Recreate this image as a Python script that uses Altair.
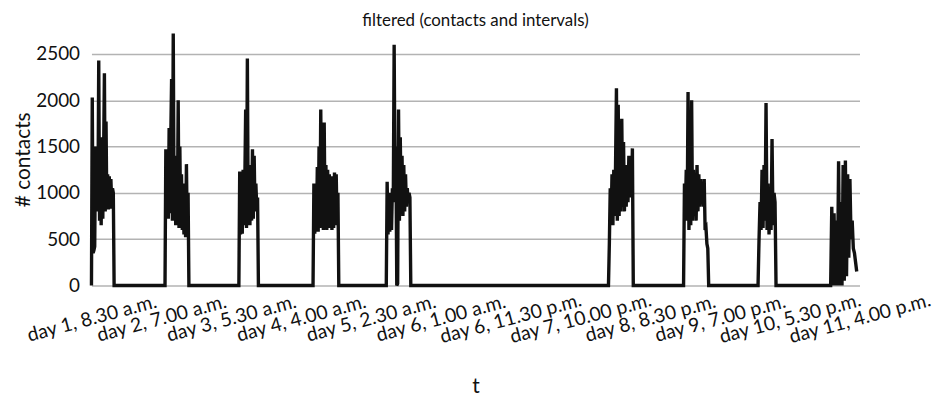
import altair as alt
import pandas as pd
import numpy as np

# Tick labels every 22.5 hours starting at day 1, 8.30 a.m.
tick_labels = [
    "day 1, 8.30 a.m.", "day 2, 7.00 a.m.", "day 3, 5.30 a.m.", "day 4, 4.00 a.m.",
    "day 5, 2.30 a.m.", "day 6, 1.00 a.m.", "day 6, 11.30 p.m.", "day 7, 10.00 p.m.",
    "day 8, 8.30 p.m.", "day 9, 7.00 p.m.", "day 10, 5.30 p.m.", "day 11, 4.00 p.m.",
]
tick_hours = [0, 22.5, 45, 67.5, 90, 112.5, 135, 157.5, 180, 202.5, 225, 247.5]
y_ticks = [0, 500, 1000, 1500, 2000, 2500]

# Active bursts: (start hour, end hour) and contact counts
burst_start = [0.0, 23.7, 47.5, 71.4, 95.0, 166.6, 190.8, 214.8, 238.2]
burst_end = [7.3, 31.4, 53.8, 79.7, 102.9, 174.6, 198.9, 220.6, 246.6]
b1 = [0, 2030, 350, 380, 420, 1500, 800, 1350, 900, 2430, 700, 1550, 650, 1600, 720,
      1400, 2290, 800, 1770, 850, 1200, 820, 1180, 830, 1150, 900, 1050, 1000, 0]
b2 = [0, 1470, 750, 1400, 720, 1700, 780, 1600, 2230, 700, 2720, 800, 1400, 650, 1350,
      720, 2000, 620, 1500, 700, 1200, 600, 1000, 550, 1100, 520, 1310, 560, 1000, 0]
b3 = [0, 1230, 550, 1200, 560, 1250, 650, 1100, 1900, 620, 2450, 700, 1300, 650, 1270,
      700, 1470, 720, 1400, 800, 1100, 850, 950, 0]
b4 = [0, 1100, 560, 1050, 600, 1280, 580, 1500, 620, 1900, 650, 1640, 600, 1760, 700,
      1300, 600, 1250, 620, 1200, 650, 1150, 600, 1180, 620, 1220, 700, 1200, 650, 1000, 0]
b5 = [0, 1120, 550, 1000, 580, 950, 600, 1050, 900, 2600, 1000, 1500, 0, 20, 1900, 700,
      1600, 800, 1400, 750, 1300, 800, 1200, 850, 1050, 900, 1000, 950, 0]
b7 = [0, 450, 1050, 700, 1200, 650, 1250, 750, 1300, 2130, 700, 1950, 750, 1250, 800,
      1800, 850, 1550, 800, 1300, 850, 1250, 900, 1400, 950, 1300, 1000, 1480, 0]
b8 = [0, 1100, 800, 1250, 700, 2090, 600, 1300, 650, 2000, 700, 1250, 750, 1200, 700,
      1300, 800, 1200, 850, 1150, 900, 1100, 850, 1150, 600, 620, 450, 400, 0]
b9 = [0, 500, 900, 600, 1250, 620, 1300, 700, 1970, 600, 1100, 550, 1000, 600, 1580,
      650, 1000, 900, 0]
b10 = [0, 850, 0, 780, 0, 700, 0, 1340, 0, 900, 0, 1300, 50, 1350, 100, 1200, 300,
       1150, 500, 700, 400, 350, 250, 150]
bursts = [b1, b2, b3, b4, b5, b7, b8, b9, b10]

hours, counts = [], []
for s, e, vals in zip(burst_start, burst_end, bursts):
    hours.extend(np.linspace(s, e, len(vals)).tolist())
    counts.extend(vals)
df = pd.DataFrame({"t": hours, "contacts": counts})

label_js = "[" + ",".join("'" + l + "'" for l in tick_labels) + "]"
FONT = "Lato"

chart = alt.Chart(df).mark_line(color="#111111", strokeWidth=3.4, strokeJoin="miter").encode(
    x=alt.X("t:Q", title="t",
            scale=alt.Scale(domain=[0, 247.5], nice=False, zero=False),
            axis=alt.Axis(values=tick_hours, grid=False, domain=False, ticks=False,
                          labelExpr=label_js + "[round(datum.value / 22.5)]",
                          labelAngle=-15, labelAlign="center", labelBaseline="middle",
                          labelPadding=33, labelFontSize=19.5, labelFont=FONT, labelColor="#111",
                          labelOverlap=False, labelFlush=False, labelBound=False,
                          titleFont=FONT, titleFontSize=21, titleFontWeight="normal",
                          titleColor="#111", titlePadding=30)),
    y=alt.Y("contacts:Q", title="# contacts",
            scale=alt.Scale(domain=[0, 2725], nice=False),
            axis=alt.Axis(values=y_ticks, format="d", grid=True,
                          gridColor="#b3b3b3", gridWidth=1.5, domain=False, ticks=False,
                          labelPadding=12, labelFontSize=19, labelFont=FONT, labelColor="#111",
                          titleFont=FONT, titleFontSize=21, titleFontWeight="normal",
                          titleColor="#111", titlePadding=2)),
).properties(
    width=773, height=254,
    title=alt.TitleParams("filtered (contacts and intervals)", font=FONT, fontSize=17,
                          fontWeight="normal", color="#111", offset=0, dy=3),
    autosize=alt.AutoSizeParams(type="none"),
    padding={"left": 84, "top": 24, "right": 80, "bottom": 112},
).configure_view(stroke=None)

chart.save("out.html", embed_options={"renderer": "svg", "actions": False})
